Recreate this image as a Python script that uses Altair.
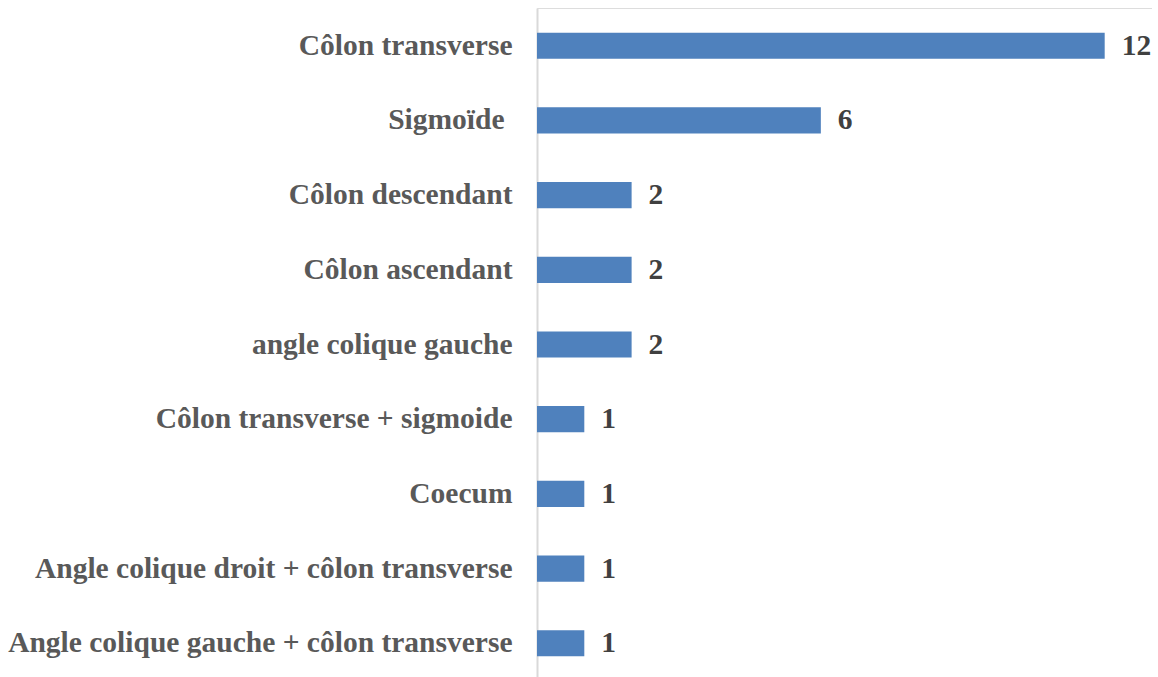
import altair as alt
import pandas as pd

# Localisation des lésions coliques (effectifs)
localisations = [
    "Côlon transverse",
    "Sigmoïde",
    "Côlon descendant",
    "Côlon ascendant",
    "angle colique gauche",
    "Côlon transverse + sigmoide",
    "Coecum",
    "Angle colique droit + côlon transverse",
    "Angle colique gauche + côlon transverse",
]
effectifs = [12, 6, 2, 2, 2, 1, 1, 1, 1]

df = pd.DataFrame({"localisation": localisations, "effectif": effectifs})

FONT = "Liberation Serif"
SIZE = 29.5

y_enc = alt.Y(
    "localisation:N",
    sort=localisations,
    title=None,
    scale=alt.Scale(paddingInner=0.65, paddingOuter=0.33),
    axis=alt.Axis(
        labelFont=FONT,
        labelFontSize=SIZE,
        labelFontWeight="bold",
        labelColor="#595959",
        # the "Sigmoïde" label carries a trailing space in the source table
        labelPadding={
            "condition": {"test": "datum.value == 'Sigmoïde'", "value": 33},
            "value": 25,
        },
        labelLimit=700,
        ticks=False,
        domainColor="#d9d9d9",
        domainWidth=2,
        grid=False,
    ),
)
x_enc = alt.X(
    "effectif:Q",
    title=None,
    scale=alt.Scale(domain=[0, 13]),
    axis=None,
)

bars = alt.Chart(df).mark_bar(color="#4F81BD").encode(x=x_enc, y=y_enc)

labels = alt.Chart(df).mark_text(
    align="left",
    baseline="middle",
    dx=17,
    font=FONT,
    fontSize=SIZE,
    fontWeight="bold",
    color="#404040",
).encode(x=x_enc, y=y_enc, text="effectif:Q")

chart = (
    (bars + labels)
    .properties(
        width=615,
        height=673,
        autosize=alt.AutoSizeParams(type="none"),
        padding={"left": 537, "top": 8, "right": 0, "bottom": 0},
    )
    .configure_view(stroke=None)
    .configure(background="white")
)

chart.save("out.html", embed_options={"renderer": "svg", "actions": False})
